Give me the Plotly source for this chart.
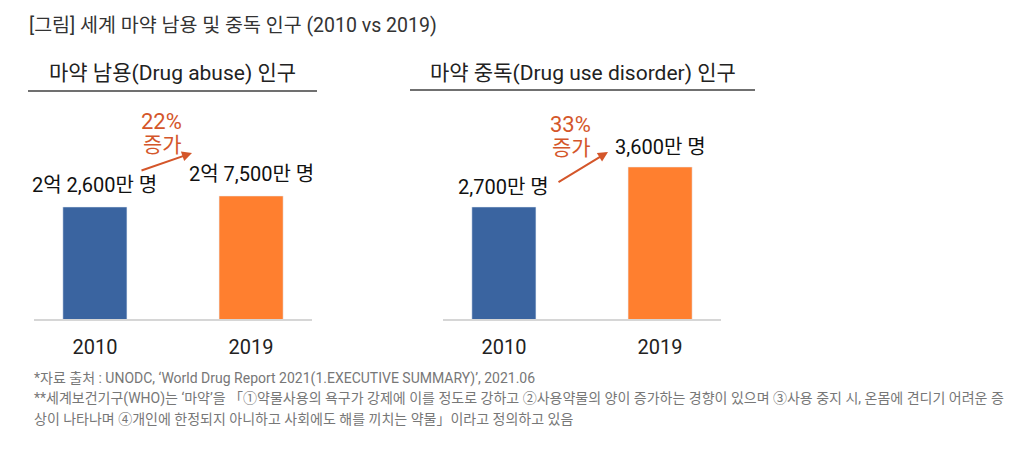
import math
import plotly.graph_objects as go

# ---------------- data ----------------
years = ["2010", "2019"]
abuse_values = [226, 275]          # 백만 명 (2억 2,600만 / 2억 7,500만)
abuse_labels = ["2억 2,600만 명", "2억 7,500만 명"]
disorder_values = [27, 36]         # 백만 명
disorder_labels = ["2,700만 명", "3,600만 명"]
bar_colors = ["#3A64A0", "#FF7F2F"]
panel_titles = ["마약 남용(Drug abuse) 인구", "마약 중독(Drug use disorder) 인구"]
growth_word = "증가"
main_title = "[그림] 세계 마약 남용 및 중독 인구 (2010 vs 2019)"
footnotes = [
    "*자료 출처 : UNODC, ‘World Drug Report 2021(1.EXECUTIVE SUMMARY)’, 2021.06",
    "**세계보건기구(WHO)는 ‘마약’을 「①약물사용의 욕구가 강제에 이를 정도로 강하고 ②사용약물의 양이 증가하는 경향이 있으며 ③사용 중지 시, 온몸에 견디기 어려운 증",
    "상이 나타나며 ④개인에 한정되지 아니하고 사회에도 해를 끼치는 약물」이라고 정의하고 있음",
]

# ---------------- layout helpers ----------------
OFF = 8                      # page body margin of the browser
W, H = 1024 - OFF, 459 - OFF
FONT = "Roboto, 'Noto Sans CJK KR', sans-serif"
ACCENT = "#D4562A"


def px(x):
    return (x - OFF) / W


def py(y):
    return 1 - (y - OFF) / H


def growth(v):
    return f"{round((v[1] / v[0] - 1) * 100)}%"


fig = go.Figure()
fig.add_trace(go.Bar(x=years, y=abuse_values, marker_color=bar_colors, width=0.41,
                     xaxis="x", yaxis="y", hoverinfo="skip"))
fig.add_trace(go.Bar(x=years, y=disorder_values, marker_color=bar_colors, width=0.41,
                     xaxis="x2", yaxis="y2", hoverinfo="skip"))

xcommon = dict(type="category", range=[-0.39, 1.39], showline=True, linecolor="#D6D6D6",
               linewidth=2, ticks="outside", ticklen=9, tickcolor="rgba(0,0,0,0)",
               tickfont=dict(size=20, color="#222222", family=FONT), showgrid=False,
               zeroline=False, fixedrange=True)
ycommon = dict(visible=False, showgrid=False, zeroline=False, fixedrange=True,
               domain=[py(319), py(100)])

fig.update_layout(
    width=W, height=H, autosize=False,
    margin=dict(l=0, r=0, t=0, b=0),
    paper_bgcolor="white", plot_bgcolor="white",
    showlegend=False, barmode="group",
    font=dict(family=FONT),
    xaxis=dict(domain=[px(34), px(312)], anchor="y", **xcommon),
    xaxis2=dict(domain=[px(443), px(721)], anchor="y2", **xcommon),
    yaxis=dict(type="log", range=[1.4852, 3.1842], anchor="x", **ycommon),
    yaxis2=dict(type="linear", range=[1.8, 51.08], anchor="x2", **ycommon),
)

ann = []
# value labels above bars (category index positions)
for i, (v, lab) in enumerate(zip(abuse_values, abuse_labels)):
    ann.append(dict(x=i, y=math.log10(v), xref="x", yref="y", text=lab, showarrow=False,
                    xanchor="center", yanchor="middle", yshift=22,
                    font=dict(size=20, color="#111111", family=FONT)))
for i, (v, lab) in enumerate(zip(disorder_values, disorder_labels)):
    ann.append(dict(x=i, y=v, xref="x2", yref="y2", text=lab, showarrow=False,
                    xanchor="center", yanchor="middle", yshift=20,
                    font=dict(size=20, color="#111111", family=FONT)))

# growth arrows and labels
for (tip, start, pct_pos, word_pos, vals) in [
    ((192, 153), (140, 171), (161, 122), (162, 145), abuse_values),
    ((608, 152), (557, 183), (570, 124), (571, 148), disorder_values),
]:
    ann.append(dict(x=px(tip[0]), y=py(tip[1]), xref="paper", yref="paper",
                    ax=start[0] - tip[0], ay=start[1] - tip[1], axref="pixel", ayref="pixel",
                    showarrow=True, arrowhead=2, arrowsize=1, arrowwidth=2,
                    arrowcolor=ACCENT, text=""))
    ann.append(dict(x=px(pct_pos[0]), y=py(pct_pos[1]), xref="paper", yref="paper",
                    xanchor="center", yanchor="middle",
                    text=growth(vals), showarrow=False, font=dict(size=22, color=ACCENT, family=FONT)))
    ann.append(dict(x=px(word_pos[0]), y=py(word_pos[1]), xref="paper", yref="paper",
                    xanchor="center", yanchor="middle",
                    text=growth_word, showarrow=False, font=dict(size=21, color=ACCENT, family=FONT)))

# panel titles
for (cx, cy, t) in [(172.5, 73, panel_titles[0]), (582.5, 73, panel_titles[1])]:
    ann.append(dict(x=px(cx), y=py(cy), xref="paper", yref="paper", text=t, showarrow=False,
                    xanchor="center", yanchor="middle",
                    font=dict(size=21, color="#222222", family=FONT)))

# main title
ann.append(dict(x=px(27), y=py(25), xref="paper", yref="paper", text=main_title,
                showarrow=False, xanchor="left", yanchor="middle",
                font=dict(size=19.5, color="#333333", family=FONT)))

# footnotes
for yy, t in zip([378, 398, 419], footnotes):
    ann.append(dict(x=px(32), y=py(yy), xref="paper", yref="paper", text=t, showarrow=False,
                    xanchor="left", yanchor="middle",
                    font=dict(size=14, color="#777777", family=FONT)))

fig.update_layout(annotations=ann)

fig.add_shape(type="line", xref="paper", yref="paper", x0=px(28), x1=px(317), y0=py(91), y1=py(91),
              line=dict(color="#404040", width=1.5))
fig.add_shape(type="line", xref="paper", yref="paper", x0=px(410), x1=px(755), y0=py(90), y1=py(90),
              line=dict(color="#404040", width=1.5))

fig.write_html("out.html", config={"displayModeBar": False})
